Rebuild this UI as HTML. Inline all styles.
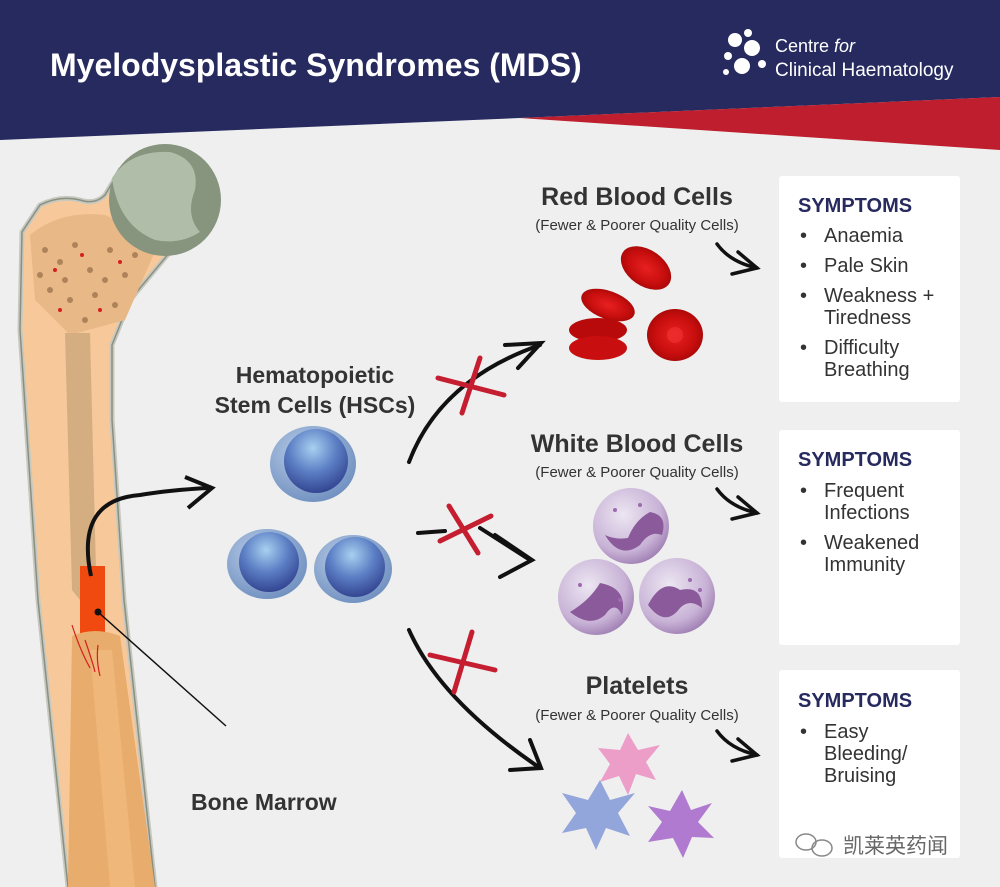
<!DOCTYPE html>
<html><head><meta charset="utf-8"><style>
html,body{margin:0;padding:0;width:1000px;height:887px;overflow:hidden;background:#efefef}
svg{display:block}
text{font-family:"Liberation Sans","Noto Sans CJK SC",sans-serif}
</style></head><body>
<svg width="1000" height="887" viewBox="0 0 1000 887" xmlns="http://www.w3.org/2000/svg">
<defs>
<radialGradient id="hscOut" cx="40%" cy="35%" r="70%"><stop offset="0" stop-color="#b9cde8"/><stop offset="1" stop-color="#6f8fbf"/></radialGradient>
<radialGradient id="hscIn" cx="45%" cy="30%" r="75%"><stop offset="0" stop-color="#a8d0f0"/><stop offset="0.5" stop-color="#5b7ec4"/><stop offset="1" stop-color="#2e3d8a"/></radialGradient>
<radialGradient id="rbc" cx="50%" cy="50%" r="60%"><stop offset="0" stop-color="#e82020"/><stop offset="0.6" stop-color="#c80e0e"/><stop offset="1" stop-color="#9a0606"/></radialGradient>
<radialGradient id="wbc" cx="40%" cy="35%" r="70%"><stop offset="0" stop-color="#ece6f2"/><stop offset="0.7" stop-color="#c8b2d6"/><stop offset="1" stop-color="#9c7bb0"/></radialGradient>
</defs>
<polygon points="0,0 1000,0 1000,97 520,118 0,140" fill="#262a5e"/>
<polygon points="520,118 1000,97 1000,150" fill="#be1e2d"/>
<text x="50" y="76" font-size="32" font-weight="bold" fill="#fff">Myelodysplastic Syndromes (MDS)</text>
<g fill="#fff">
<circle cx="735" cy="40" r="7"/><circle cx="748" cy="33" r="4"/><circle cx="752" cy="48" r="8"/><circle cx="728" cy="56" r="4"/><circle cx="742" cy="66" r="8"/><circle cx="762" cy="64" r="4"/><circle cx="726" cy="72" r="3"/>
</g>
<text x="775" y="52" font-size="18" fill="#fff">Centre <tspan font-style="italic">for</tspan></text>
<text x="775" y="76" font-size="19" fill="#fff">Clinical Haematology</text>

<!-- bone -->
<path d="M22,232 L20,330 L38,600 L68,887 L155,887 L124,600 L112,420 L112,345 Q120,325 130,300 L180,240 L175,180 L120,170 L105,195 Q95,205 80,200 Q60,195 40,205 Z" fill="#f7c99a" stroke="#c7c9c0" stroke-width="5"/>
<path d="M22,232 L20,330 L38,600 L68,887 L155,887 L124,600 L112,420 L112,345 Q120,325 130,300 L180,240 L175,180 L120,170 L105,195 Q95,205 80,200 Q60,195 40,205 Z" fill="none" stroke="#8a9080" stroke-width="1.5"/>
<path d="M30,235 Q60,210 105,215 L160,240 L125,320 L70,335 L35,300 Z" fill="#e8b887"/>
<g fill="#a0764e" opacity="0.8">
<circle cx="45" cy="250" r="3"/><circle cx="60" cy="262" r="3"/><circle cx="75" cy="245" r="3"/><circle cx="90" cy="270" r="3"/><circle cx="110" cy="250" r="3"/><circle cx="125" cy="275" r="3"/><circle cx="50" cy="290" r="3"/><circle cx="70" cy="300" r="3"/><circle cx="95" cy="295" r="3"/><circle cx="115" cy="305" r="3"/><circle cx="135" cy="255" r="3"/><circle cx="40" cy="275" r="3"/><circle cx="85" cy="320" r="3"/><circle cx="105" cy="280" r="3"/><circle cx="65" cy="280" r="3"/>
</g>
<g fill="#d42020"><circle cx="55" cy="270" r="2"/><circle cx="82" cy="255" r="2"/><circle cx="100" cy="310" r="2"/><circle cx="120" cy="262" r="2"/><circle cx="60" cy="310" r="2"/><circle cx="140" cy="240" r="2"/></g>
<circle cx="165" cy="200" r="56" fill="#87947e"/>
<path d="M112,178 Q130,150 170,152 Q200,160 195,190 Q185,215 200,232 Q180,245 155,240 Q118,225 112,178 Z" fill="#b0bda8"/>
<path d="M65,333 L90,333 L96,570 L80,600 L72,590 Z" fill="#d4ae80"/>
<rect x="80" y="566" width="25" height="70" fill="#f04a10"/>
<path d="M72,636 Q95,626 120,636 L155,887 L68,887 Z" fill="#e8ac6c"/>
<path d="M90,650 L110,887 L135,887 L112,650 Z" fill="#f2bc80" opacity="0.7"/>
<path d="M72,625 Q80,650 90,668 M85,640 Q92,660 95,672 M98,645 Q96,660 100,676" stroke="#d42020" stroke-width="1.2" fill="none"/>
<circle cx="98" cy="612" r="3.5" fill="#111"/>
<line x1="98" y1="612" x2="226" y2="726" stroke="#111" stroke-width="1.5"/>
<text x="191" y="810" font-size="23" font-weight="bold" fill="#333">Bone Marrow</text>

<path d="M91,576 Q75,500 140,495 Q170,490 208,488" stroke="#111" stroke-width="4" fill="none"/>
<path d="M185,477 L212,488 L188,508" stroke="#111" stroke-width="4" fill="none"/>

<text x="315" y="383" font-size="23" font-weight="bold" fill="#333" text-anchor="middle">Hematopoietic</text>
<text x="315" y="413" font-size="23" font-weight="bold" fill="#333" text-anchor="middle">Stem Cells (HSCs)</text>
<g>
<ellipse cx="313" cy="464" rx="43" ry="38" fill="url(#hscOut)"/><circle cx="316" cy="461" r="32" fill="url(#hscIn)"/>
<ellipse cx="267" cy="564" rx="40" ry="35" fill="url(#hscOut)"/><circle cx="269" cy="562" r="30" fill="url(#hscIn)"/>
<ellipse cx="353" cy="569" rx="39" ry="34" fill="url(#hscOut)"/><circle cx="355" cy="567" r="30" fill="url(#hscIn)"/>
</g>

<g stroke="#111" stroke-width="4" fill="none" stroke-linecap="round">
<path d="M409,462 Q440,380 540,345"/><path d="M505,345 L541,343 L518,368"/>
<path d="M418,533 L445,531 M480,528 L530,560"/><path d="M495,535 L532,560 L500,577"/>
<path d="M409,630 Q440,700 540,768"/><path d="M510,770 L541,768 L530,740"/>
</g>
<g stroke="#c41e30" stroke-width="5" stroke-linecap="round">
<line x1="438" y1="378" x2="504" y2="395"/><line x1="480" y1="358" x2="462" y2="413"/>
<line x1="440" y1="541" x2="491" y2="516"/><line x1="449" y1="506" x2="478" y2="553"/>
<line x1="430" y1="655" x2="495" y2="670"/><line x1="472" y1="632" x2="454" y2="692"/>
</g>

<g fill="#333" text-anchor="middle">
<text x="637" y="205" font-size="25" font-weight="bold">Red Blood Cells</text>
<text x="637" y="230" font-size="15">(Fewer &amp; Poorer Quality Cells)</text>
<text x="637" y="452" font-size="25" font-weight="bold">White Blood Cells</text>
<text x="637" y="477" font-size="15">(Fewer &amp; Poorer Quality Cells)</text>
<text x="637" y="694" font-size="25" font-weight="bold">Platelets</text>
<text x="637" y="720" font-size="15">(Fewer &amp; Poorer Quality Cells)</text>
</g>
<g stroke="#111" stroke-width="3.5" fill="none" stroke-linecap="round">
<path d="M717,244 Q730,262 757,268"/><path d="M738,252 L757,268 L732,274"/>
<path d="M717,489 Q730,507 757,513"/><path d="M738,497 L757,513 L732,519"/>
<path d="M717,731 Q730,749 757,755"/><path d="M738,739 L757,755 L732,761"/>
</g>

<g>
<ellipse cx="646" cy="268" rx="28" ry="18" transform="rotate(35 646 268)" fill="url(#rbc)"/>
<ellipse cx="608" cy="305" rx="28" ry="14" transform="rotate(20 608 305)" fill="url(#rbc)"/>
<ellipse cx="598" cy="330" rx="29" ry="12" fill="#b80a0a"/>
<ellipse cx="598" cy="348" rx="29" ry="12" fill="#c80e0e"/>
<ellipse cx="675" cy="335" rx="28" ry="26" fill="url(#rbc)"/>
<circle cx="675" cy="335" r="8" fill="#f03030" opacity="0.7"/>
</g>

<g>
<circle cx="631" cy="526" r="38" fill="url(#wbc)"/>
<path d="M605,535 Q620,560 640,545 Q650,530 662,535 Q668,515 650,512 Q635,520 628,538 Q615,540 605,535Z" fill="#8a5a9a"/>
<circle cx="596" cy="597" r="38" fill="url(#wbc)"/>
<path d="M570,612 Q590,628 605,615 Q615,600 622,615 Q628,588 600,583 Q590,600 570,612Z" fill="#8a5a9a"/>
<circle cx="677" cy="596" r="38" fill="url(#wbc)"/>
<path d="M648,605 Q665,628 680,608 Q690,598 702,608 Q702,585 680,590 Q662,578 648,605Z" fill="#8a5a9a"/>
<g fill="#9c6ab0"><circle cx="615" cy="510" r="2"/><circle cx="640" cy="505" r="2"/><circle cx="580" cy="585" r="2"/><circle cx="690" cy="580" r="2"/><circle cx="700" cy="590" r="2"/><circle cx="620" cy="600" r="2"/></g>
</g>

<g>
<path d="M628,733 L638,750 L660,745 L646,762 L656,780 L636,774 L628,795 L619,776 L600,782 L610,764 L598,748 L620,750 Z" fill="#ec9dc8"/>
<path d="M600,780 L610,800 L635,793 L618,813 L630,836 L606,828 L596,850 L586,828 L562,833 L576,813 L562,793 L588,800 Z" fill="#93a6dc"/>
<path d="M682,790 L691,810 L712,803 L698,822 L714,838 L692,837 L683,858 L673,838 L648,842 L662,822 L648,806 L670,811 Z" fill="#b07ad0"/>
</g>

<g fill="#fff">
<rect x="779" y="176" width="181" height="226" rx="3"/>
<rect x="779" y="430" width="181" height="215" rx="3"/>
<rect x="779" y="670" width="181" height="188" rx="3"/>
</g>
<g font-size="20" fill="#333">
<text x="798" y="212" font-weight="bold" fill="#262a5e">SYMPTOMS</text>
<text x="800" y="242">•</text><text x="824" y="242">Anaemia</text>
<text x="800" y="272">•</text><text x="824" y="272">Pale Skin</text>
<text x="800" y="302">•</text><text x="824" y="302">Weakness +</text><text x="824" y="324">Tiredness</text>
<text x="800" y="354">•</text><text x="824" y="354">Difficulty</text><text x="824" y="376">Breathing</text>
<text x="798" y="466" font-weight="bold" fill="#262a5e">SYMPTOMS</text>
<text x="800" y="497">•</text><text x="824" y="497">Frequent</text><text x="824" y="519">Infections</text>
<text x="800" y="549">•</text><text x="824" y="549">Weakened</text><text x="824" y="571">Immunity</text>
<text x="798" y="707" font-weight="bold" fill="#262a5e">SYMPTOMS</text>
<text x="800" y="738">•</text><text x="824" y="738">Easy</text><text x="824" y="760">Bleeding/</text><text x="824" y="782">Bruising</text>
</g>
<g fill="none" stroke="#888" stroke-width="1.5"><ellipse cx="806" cy="842" rx="10" ry="8"/><ellipse cx="822" cy="848" rx="10" ry="8"/></g>
<text x="843" y="853" font-size="21" fill="#666">凯莱英药闻</text>
</svg>
</body></html>
